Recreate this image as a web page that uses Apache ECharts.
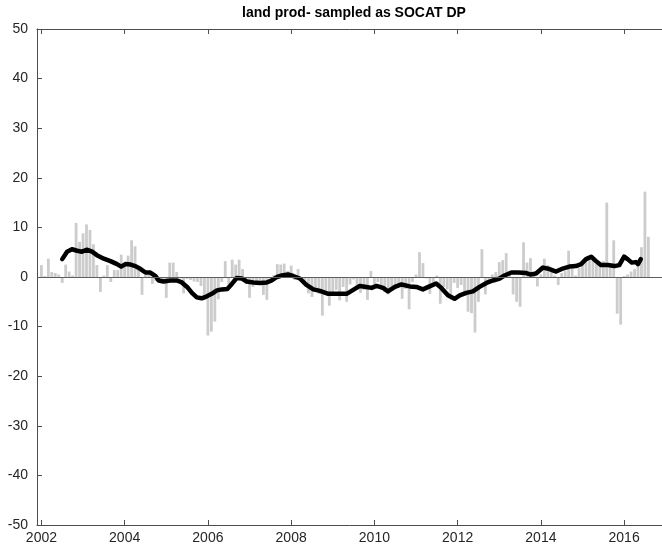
<!DOCTYPE html>
<html>
<head>
<meta charset="utf-8">
<script src="https://cdn.jsdelivr.net/npm/echarts@6/dist/echarts.min.js"></script>
<style>
html,body{margin:0;padding:0;background:#fff;}
#chart{width:662px;height:550px;}
</style>
</head>
<body>
<div id="chart"></div>
<script>
// ---- data ----
const titleText = 'land prod- sampled as SOCAT DP';
const startYear = 2002;           // first monthly bar
const xTicks = [2002, 2004, 2006, 2008, 2010, 2012, 2014, 2016];
const yTicks = [-50, -40, -30, -20, -10, 0, 10, 20, 30, 40, 50];

// monthly anomalies (bars), starting Jan 2002
const barValues = [
  2.4, 0.2, 3.7, 1.0, 0.8, 0.5, -1.2, 2.5, 1.1, 0.3,
  10.9, 7.1, 8.8, 10.6, 9.5, 6.6, 2.4, -3.0, 0.3, 2.4,
  -1.0, 1.4, 1.4, 4.5, 2.4, 4.3, 7.4, 6.2, 2.0, -3.6,
  0.5, 0.8, -1.4, -0.8, -0.5, -1.0, -4.2, 2.9, 2.9, 1.0,
  -0.3, -3.3, -0.4, -0.6, -0.9, -1.0, -1.8, -4.6, -11.8, -11.0,
  -9.0, -4.5, -1.0, 3.2, -1.5, 3.5, 2.5, 3.5, 1.6, -1.4,
  -4.2, -2.0, -1.4, -1.0, -3.6, -4.6, -0.8, 0.4, 2.6, 2.5,
  2.7, 1.2, 2.3, -0.6, 1.6, -1.0, -0.8, -3.3, -4.0, -3.0,
  -3.4, -7.8, -3.0, -5.8, -3.0, -2.6, -4.7, -2.0, -5.0, -1.5,
  -0.5, -2.6, -3.2, -2.6, -4.6, 1.2, -1.5, -1.0, -2.6, -3.0,
  -3.5, -2.4, -2.0, -1.4, -4.4, -2.4, -6.5, -1.0, 0.5, 5.0,
  2.8, -0.3, -3.4, -1.5, 0.3, -5.4, -2.0, -2.5, -4.5, -1.2,
  -2.2, -1.6, -3.6, -7.0, -7.3, -11.2, -5.0, 5.6, -3.5, -0.8,
  0.5, 1.0, 3.0, 3.4, 4.8, 0.5, -3.5, -5.0, -6.0, 7.0,
  2.9, 3.8, 0.5, -1.9, 0.5, 3.7, 2.4, 1.0, 0.3, -1.6,
  0.8, 1.2, 5.3, 2.4, 0.3, 1.8, 2.8, 3.4, 4.0, 3.6,
  3.0, 2.5, 3.2, 15.0, 2.5, 7.4, -7.4, -9.6, 0.2, 0.5,
  1.1, 1.6, 2.2, 6.0, 17.2, 8.1
];

// running mean (black line): month offset from Jan 2002, value
const lineMonths = [
  6, 7.4, 8.8, 10.3, 11.7, 13.2, 14.6, 16, 18, 19.9,
  21.8, 23, 24.2, 25.7, 27.1, 28.6, 30, 31.4, 32.9, 33.8,
  35.2, 37.1, 39, 40.5, 42, 43.4, 44.8, 46.2, 47.7, 49.1,
  50.6, 52, 53.6, 54.9, 56.3, 57.8, 59.2, 61.1, 63.1, 65,
  66.4, 67.9, 69.3, 71.1, 72.6, 74.5, 76.4, 78.4, 80.3, 82.7,
  85.1, 88, 89.9, 91.8, 93.7, 95.2, 96.6, 98.5, 99.9, 101.9,
  103.8, 106.2, 108.1, 110, 111.9, 113.8, 115.3, 117.2, 119.1, 120.6,
  122.5, 124.4, 126.3, 128.3, 130.2, 132.1, 133.5, 135.5, 137.4, 139.8,
  141.1, 142.6, 144.6, 146.5, 148.4, 150.3, 152.2, 154.1, 155.6, 157,
  158.5, 159.9, 161.3, 163.3, 165.2, 166.6, 168, 169, 170.2, 171.4,
  172, 172.8
];
const lineValues = [
  3.6, 5.1, 5.6, 5.3, 5.1, 5.5, 5.1, 4.4, 3.7, 3.2,
  2.6, 2.1, 2.6, 2.5, 2.2, 1.6, 0.9, 0.9, 0.2, -0.7,
  -0.9, -0.7, -0.7, -1.1, -2.0, -3.2, -4.1, -4.3, -3.9, -3.4,
  -2.7, -2.5, -2.4, -1.4, -0.2, -0.3, -0.9, -1.1, -1.2, -1.1,
  -0.7, 0.0, 0.3, 0.5, 0.2, -0.3, -1.6, -2.5, -2.8, -3.4,
  -3.4, -3.4, -2.6, -1.8, -2.0, -2.2, -1.8, -2.2, -2.9, -2.0,
  -1.5, -1.9, -2.0, -2.5, -1.9, -1.3, -2.2, -3.7, -4.4, -3.7,
  -3.2, -2.9, -2.0, -1.2, -0.7, -0.3, 0.3, 0.9, 0.9, 0.8,
  0.5, 0.7, 1.9, 1.6, 1.1, 1.7, 2.1, 2.2, 2.6, 3.6,
  4.1, 3.2, 2.4, 2.4, 2.2, 2.4, 4.1, 3.6, 2.9, 3.0,
  2.6, 3.6
];

// ---- chart ----
const xMin = 2001.894, xMax = 2016.91;
const barData = barValues.map((v, i) => [startYear + i / 12, v]);
const lineData = lineMonths.map((m, i) => [startYear + m / 12, lineValues[i]]);

const axisColor = '#4d4d4d';
const textColor = '#262626';
const font = 'Liberation Sans, Arial, Helvetica, sans-serif';

const chart = echarts.init(document.getElementById('chart'), null, {renderer: 'canvas'});
chart.setOption({
  animation: false,
  backgroundColor: '#ffffff',
  title: {
    text: titleText,
    left: 349, top: 1, textAlign: 'center',
    textStyle: {fontFamily: font, fontSize: 14, fontWeight: 'bold', color: '#000'}
  },
  grid: {left: 37, right: 0, top: 29, bottom: 25, containLabel: false},
  xAxis: [{
    type: 'value', min: xMin, max: xMax, position: 'bottom',
    axisLine: {show: true, onZero: false, lineStyle: {color: axisColor, width: 1}},
    axisTick: {show: true, inside: true, length: 5, customValues: xTicks, lineStyle: {color: axisColor}},
    axisLabel: {show: true, customValues: xTicks, margin: 6, color: textColor, fontFamily: font, fontSize: 14,
      formatter: v => String(v)},
    splitLine: {show: false}
  }, {
    type: 'value', min: xMin, max: xMax, position: 'top',
    axisLine: {show: true, onZero: false, lineStyle: {color: axisColor, width: 1}},
    axisTick: {show: true, inside: true, length: 5, customValues: xTicks, lineStyle: {color: axisColor}},
    axisLabel: {show: false},
    splitLine: {show: false}
  }],
  yAxis: {
    type: 'value', min: -50, max: 50, interval: 10,
    axisLine: {show: true, onZero: false, lineStyle: {color: axisColor, width: 1}},
    axisTick: {show: true, inside: true, length: 5, lineStyle: {color: axisColor}},
    axisLabel: {show: true, margin: 9, color: textColor, fontFamily: font, fontSize: 14,
      customValues: yTicks},
    splitLine: {show: false}
  },
  series: [{
    type: 'line', data: [], z: 1, silent: true,
    markLine: {
      silent: true, symbol: 'none', label: {show: false},
      lineStyle: {color: '#5e5e5e', width: 1, type: 'solid'},
      data: [{yAxis: 0}]
    }
  }, {
    type: 'bar', data: barData, barWidth: 2.8, z: 2,
    itemStyle: {color: '#cccccc'},
    silent: true
  }, {
    type: 'line', data: lineData, z: 3, showSymbol: false, symbol: 'none',
    lineStyle: {color: '#000000', width: 4.5, cap: 'round', join: 'round'},
    silent: true
  }]
});
</script>
</body>
</html>
